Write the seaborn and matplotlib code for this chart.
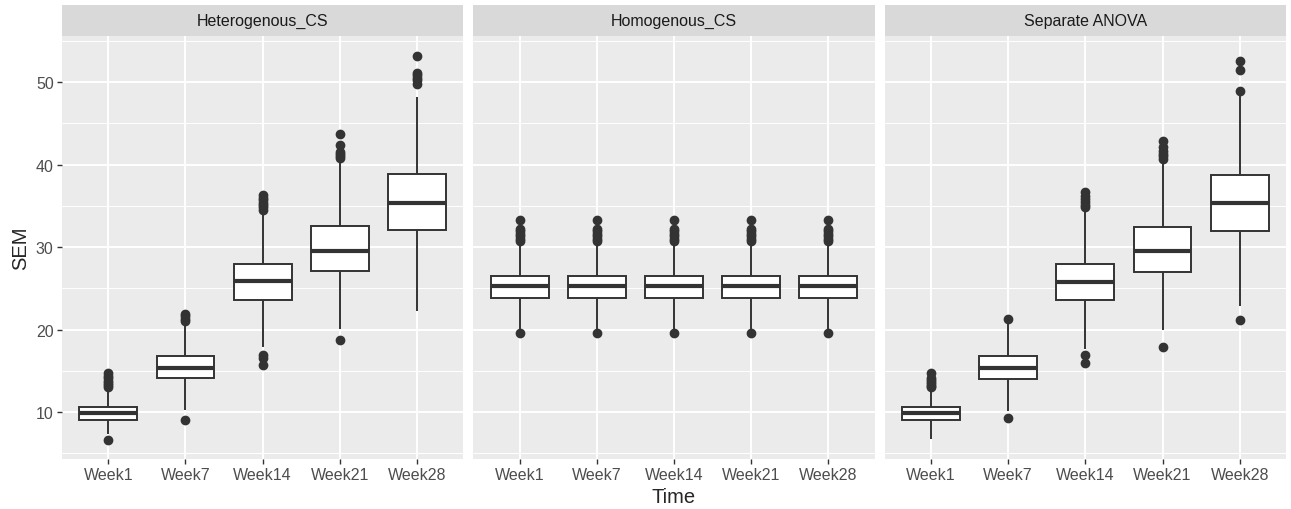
import pandas as pd
import seaborn as sns
import matplotlib.pyplot as plt
from matplotlib.patches import Rectangle
from matplotlib.ticker import FixedLocator

weeks = ["Week1", "Week7", "Week14", "Week21", "Week28"]
methods = ["Heterogenous_CS", "Homogenous_CS", "Separate ANOVA"]

# box summaries (q1, median, q3, whisker ends, outliers)
het_q1 = [9.05, 14.1, 23.6, 27.1, 32.1]
het_med = [9.9, 15.4, 25.9, 29.5, 35.3]
het_q3 = [10.6, 16.8, 27.9, 32.5, 38.8]
het_lo = [7.4, 10.3, 17.9, 20.1, 22.2]
het_hi = [12.8, 20.7, 34.2, 40.3, 48.2]
het_out = [[6.6, 13.0, 13.3, 13.5, 13.8, 14.1, 14.4, 14.7],
           [9.1, 21.0, 21.3, 21.6, 21.9],
           [15.7, 16.6, 16.9, 34.5, 34.8, 35.1, 35.4, 35.7, 36.0, 36.3],
           [18.8, 40.8, 41.0, 41.3, 41.5, 42.4, 43.7],
           [49.8, 50.2, 50.5, 50.8, 51.1, 53.2]]

hom_q1 = [23.8, 23.8, 23.8, 23.8, 23.8]
hom_med = [25.3, 25.3, 25.3, 25.3, 25.3]
hom_q3 = [26.5, 26.5, 26.5, 26.5, 26.5]
hom_lo = [20.1, 20.1, 20.1, 20.1, 20.1]
hom_hi = [30.2, 30.2, 30.2, 30.2, 30.2]
hom_out = [[19.6, 30.7, 31.0, 31.3, 31.6, 31.9, 32.2, 33.3]] * 5

sep_q1 = [9.05, 14.0, 23.6, 27.0, 32.0]
sep_med = [9.85, 15.4, 25.8, 29.5, 35.3]
sep_q3 = [10.6, 16.8, 28.0, 32.4, 38.7]
sep_lo = [6.75, 10.2, 17.7, 19.9, 22.9]
sep_hi = [12.8, 20.9, 34.2, 40.3, 48.4]
sep_out = [[13.0, 13.2, 13.4, 13.6, 13.9, 14.2, 14.8],
           [9.35, 21.3],
           [15.9, 16.9, 34.8, 35.1, 35.5, 35.8, 36.2, 36.7],
           [17.95, 40.7, 41.0, 41.3, 41.7, 42.1, 42.9],
           [21.2, 48.9, 51.5, 52.6]]

summaries = {
    "Heterogenous_CS": (het_q1, het_med, het_q3, het_lo, het_hi, het_out),
    "Homogenous_CS": (hom_q1, hom_med, hom_q3, hom_lo, hom_hi, hom_out),
    "Separate ANOVA": (sep_q1, sep_med, sep_q3, sep_lo, sep_hi, sep_out),
}

# rebuild a sample per box whose quartiles/whiskers/outliers give the summary
rows = []
for m in methods:
    q1, med, q3, lo, hi, out = summaries[m]
    for i, w in enumerate(weeks):
        vals = out[i] + [lo[i], hi[i]] + [q1[i]] * 30 + [med[i]] * 30 + [q3[i]] * 30
        rows += [(m, w, v) for v in vals]
df = pd.DataFrame(rows, columns=["method", "Time", "SEM"])

sns.set_style("darkgrid", {"axes.facecolor": "#EBEBEB", "grid.color": "white"})
plt.rcParams['font.family'] = ['Liberation Sans', 'DejaVu Sans']

fig, axes = plt.subplots(1, 3, figsize=(12.91, 5.10), dpi=100, sharey=True)
fig.subplots_adjust(left=62/1291, right=1286/1291, top=1-37/510, bottom=1-460/510, wspace=0.025)

for ax, m in zip(axes, methods):
    sns.boxplot(data=df[df.method == m], x="Time", y="SEM", order=weeks, ax=ax,
                color="white", linecolor="#333333", linewidth=1.4, width=0.75,
                showcaps=False, fliersize=6,
                flierprops=dict(marker='o', markerfacecolor='#333333', markeredgecolor='#333333'),
                medianprops=dict(linewidth=3, color='#333333'))
    ax.set_xlim(-0.6, 4.6)
    ax.set_ylim(4.33, 55.57)
    ax.set_yticks([10, 20, 30, 40, 50])
    ax.yaxis.set_minor_locator(FixedLocator([5, 15, 25, 35, 45, 55]))
    ax.grid(which='major', color='white', linewidth=1.4)
    ax.grid(which='minor', axis='y', color='white', linewidth=0.7)
    for s in ax.spines.values():
        s.set_visible(False)
    ax.set_xlabel("")
    ax.set_ylabel("")
    ax.tick_params(axis='x', length=3.5, width=1, color='#333333', labelcolor='#4D4D4D',
                   labelsize=11.5, pad=2.5, bottom=True)
    ax.tick_params(axis='y', which='major', length=3.5, width=1, color='#333333',
                   labelcolor='#4D4D4D', labelsize=11.5, pad=2.5, left=(ax is axes[0]))
    ax.tick_params(axis='y', which='minor', length=0)
    # facet strip
    ax.add_patch(Rectangle((0, 1), 1, 31/423, transform=ax.transAxes,
                           facecolor='#D9D9D9', edgecolor='none', clip_on=False))
    ax.text(0.5, 1 + 15.5/423, m, transform=ax.transAxes, ha='center', va='center',
            fontsize=11.5, color='#1A1A1A')

fig.text(0.522, 0.025, "Time", ha='center', va='center', fontsize=14.5)
fig.text(0.016, 1 - 248.5/510, "SEM", ha='center', va='center', rotation=90, fontsize=14.5)

plt.savefig("out.png", dpi=100)
